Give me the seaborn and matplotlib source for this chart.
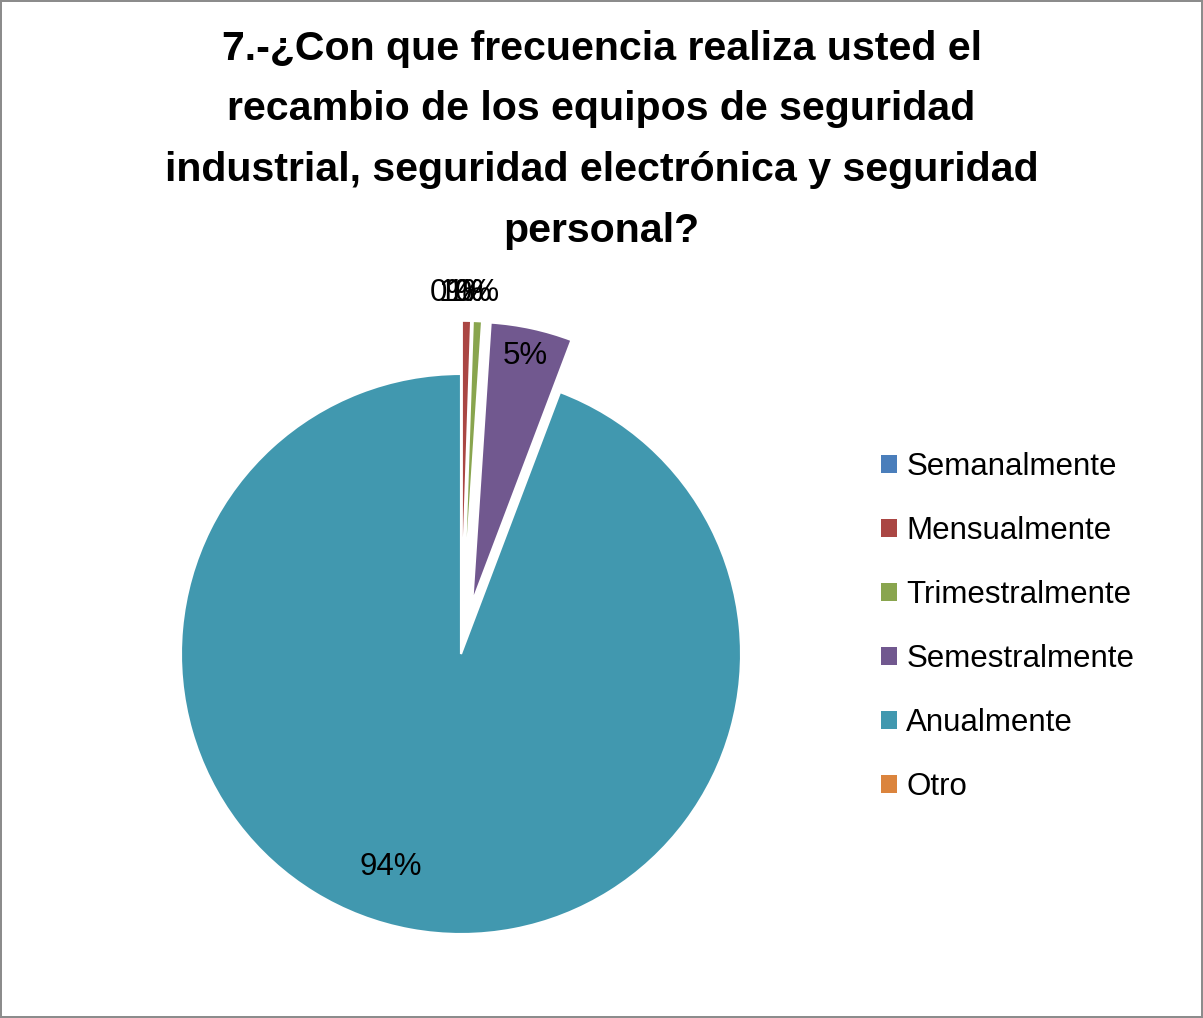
import matplotlib
matplotlib.use('Agg')
import matplotlib.pyplot as plt
import seaborn as sns

# ============================================
# DATA
# ============================================

categories = ['Semanalmente', 'Mensualmente', 'Trimestralmente',
              'Semestralmente', 'Anualmente', 'Otro']
counts = [0, 1, 1, 9, 180, 0]
colors = ['#4A7EBB', '#AA4643', '#89A54E', '#71588F', '#4198AF', '#DB843D']
explode = [0, 0.19, 0.19, 0.19, 0, 0]

title = ('7.-¿Con que frecuencia realiza usted el\n'
         'recambio de los equipos de seguridad\n'
         'industrial, seguridad electrónica y seguridad\n'
         'personal?')

sns.set_style("white")
plt.rcParams['font.family'] = ['Liberation Sans', 'DejaVu Sans']
plt.rcParams['text.color'] = 'black'

W, H = 1203, 1018
fig = plt.figure(figsize=(W / 100, H / 100), dpi=100)
fig.patch.set_edgecolor('#8c8c8c')
fig.patch.set_linewidth(1.5)

# pie centre at (461, 654) px, radius 280 px
R = 280
cx, cy = 461, H - 654
x0, x1, y0, y1 = -1.4, 1.4, -1.1, 1.45
ax = fig.add_axes([(cx + x0 * R) / W, (cy + y0 * R) / H,
                   (x1 - x0) * R / W, (y1 - y0) * R / H])

wedges, texts, autotexts = ax.pie(
    counts,
    colors=colors,
    explode=explode,
    startangle=90,
    counterclock=False,
    autopct=lambda p: '%.0f%%' % p,
    pctdistance=0.9,
    wedgeprops=dict(edgecolor='white', linewidth=1.5),
    textprops=dict(fontsize=22.5, color='black'),
)
ax.set_xlim(x0, x1)
ax.set_ylim(y0, y1)
ax.set_aspect('auto')
ax.axis('off')

# small slice labels sit stacked above the pie (overlapping, as in the source)
small_x = {0: -0.03, 1: 0.0, 2: 0.03, 5: 0.06}
for i, xpos in small_x.items():
    autotexts[i].set_position((xpos, 1.29))
autotexts[4].set_position((-0.25, -0.76))

fig.text(0.5, 1 - 30 / H, title, ha='center', va='top',
         fontsize=29.6, fontweight='bold', linespacing=1.75)

leg = ax.legend(
    wedges, categories,
    loc='center left',
    bbox_to_anchor=(853 / W, 1 - 627 / H),
    bbox_transform=fig.transFigure,
    frameon=False,
    fontsize=22.5,
    handlelength=0.5,
    handleheight=0.5,
    handletextpad=0.3,
    labelspacing=1.09,
)
for h in leg.legend_handles:
    h.set_linewidth(0)

fig.savefig('out.png', dpi=100)
